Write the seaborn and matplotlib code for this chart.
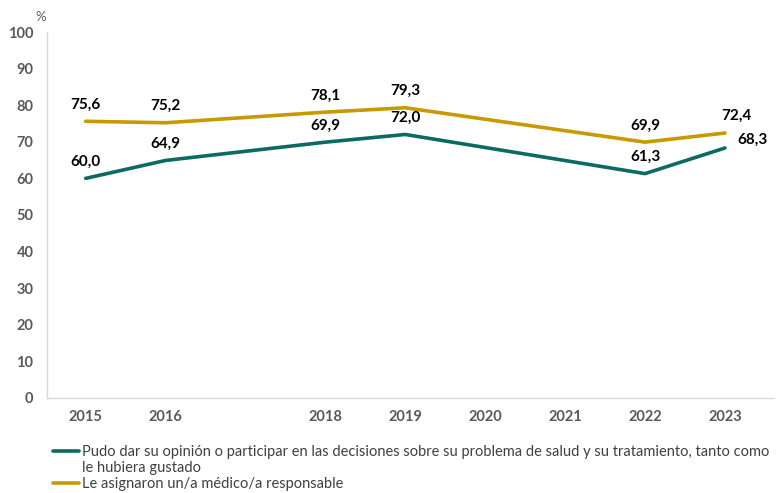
import matplotlib
matplotlib.use("Agg")
import matplotlib.pyplot as plt
import seaborn as sns
import pandas as pd

years = [2015, 2016, 2018, 2019, 2022, 2023]
tick_years = [2015, 2016, 2018, 2019, 2020, 2021, 2022, 2023]
opinion = [60.0, 64.9, 69.9, 72.0, 61.3, 68.3]
medico = [75.6, 75.2, 78.1, 79.3, 69.9, 72.4]
label_opinion_1 = "Pudo dar su opinión o participar en las decisiones sobre su problema de salud y su tratamiento, tanto como"
label_opinion_2 = "le hubiera gustado"
label_medico = "Le asignaron un/a médico/a responsable"

sns.set_theme(style="white")
plt.rcParams['font.family'] = ['Lato', 'DejaVu Sans']

df = pd.DataFrame({
    "year": years * 2,
    "value": opinion + medico,
    "serie": [label_opinion_1] * len(years) + [label_medico] * len(years),
})

teal = "#0B6B62"
gold = "#C69A00"

fig = plt.figure(figsize=(7.76, 4.93), dpi=100)
ax = fig.add_axes([0.061, 0.193, 0.935, 0.742])
sns.lineplot(data=df, x="year", y="value", hue="serie", palette=[teal, gold],
             linewidth=2.6, ax=ax, legend=True)

ax.set_xlim(2014.52, 2023.6)
ax.set_ylim(0, 100)
ax.set_yticks(range(0, 101, 10))
ax.set_xticks(tick_years)
ax.set_xticklabels([str(y) for y in tick_years])
ax.tick_params(axis='both', labelsize=10.5, colors="#595959", length=0)
for lab in ax.get_xticklabels() + ax.get_yticklabels():
    lab.set_fontweight('bold')
ax.tick_params(axis='x', pad=9)
ax.tick_params(axis='y', pad=10)
ax.set_xlabel("")
ax.set_ylabel("")
for s in ["top", "right"]:
    ax.spines[s].set_visible(False)
for s in ["left", "bottom"]:
    ax.spines[s].set_color("#D9D9D9")
    ax.spines[s].set_linewidth(1)

def fmt(v):
    return f"{v:.1f}".replace(".", ",")

for x, v in zip(years, opinion):
    off = (20, 1) if x == 2023 else (0, 7)
    ax.annotate(fmt(v), (x, v), xytext=off, textcoords="offset points",
                ha="center", va="bottom", fontsize=11, fontweight="bold", color="black")
for x, v in zip(years, medico):
    dx = 8 if x == 2023 else 0
    ax.annotate(fmt(v), (x, v), xytext=(dx, 7), textcoords="offset points",
                ha="center", va="bottom", fontsize=11, fontweight="bold", color="black")

fig.text(0.052, 0.965, "%", fontsize=9.5, color="#595959", ha="center", va="center")

leg = ax.legend(loc="upper left", bbox_to_anchor=(0.068, 0.098), bbox_transform=fig.transFigure,
                frameon=False, fontsize=10.5, handlelength=1.8, handletextpad=0.2,
                labelspacing=1.25, borderaxespad=0, borderpad=0)
for t in leg.get_texts():
    t.set_color("#404040")

fig.canvas.draw()
r = fig.canvas.get_renderer()
b1 = leg.get_texts()[0].get_window_extent(r)
b2 = leg.get_texts()[1].get_window_extent(r)
ymid = (b1.y0 + b1.y1 + b2.y0 + b2.y1) / 4
inv = fig.transFigure.inverted()
xf, yf = inv.transform((b1.x0, ymid))
fig.text(xf, yf, label_opinion_2, fontsize=10.5, color="#404040", ha="left", va="center")

fig.savefig("out.png", dpi=100)
